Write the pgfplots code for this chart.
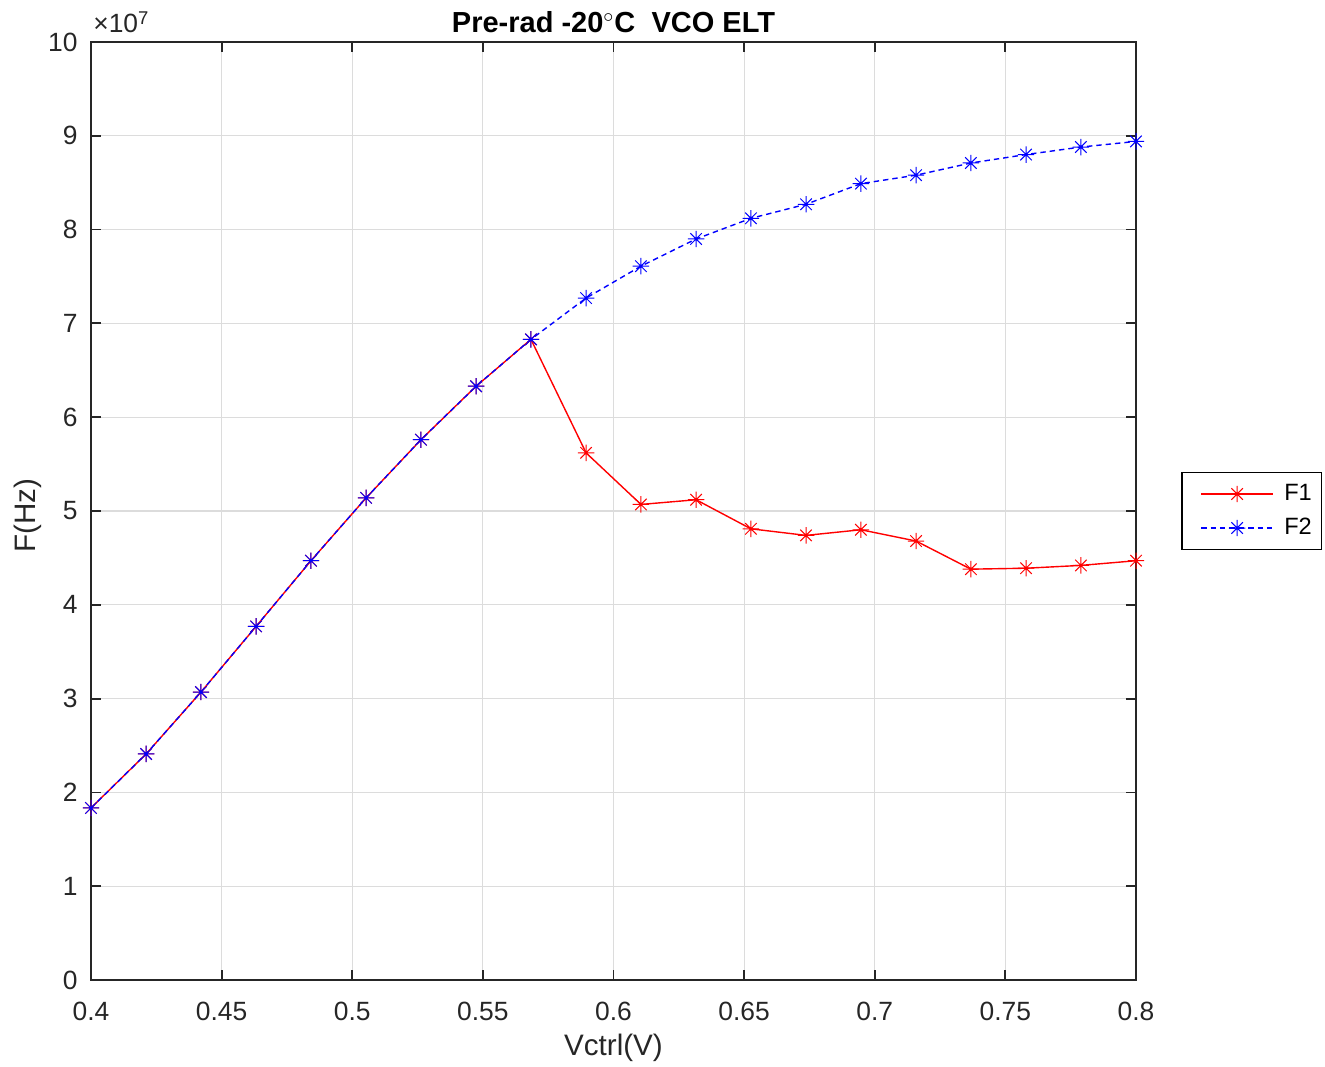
\documentclass[border=0pt]{standalone}
\usepackage{fontspec}
\setmainfont{Liberation Sans}
\usepackage{pgfplots}
\pgfplotsset{compat=1.18}
\definecolor{axc}{RGB}{38,38,38}
\definecolor{gridc}{RGB}{220,220,220}
\pgfdeclareplotmark{matast}{%
  \pgfpathmoveto{\pgfqpoint{-\pgfplotmarksize}{0pt}}%
  \pgfpathlineto{\pgfqpoint{\pgfplotmarksize}{0pt}}%
  \pgfpathmoveto{\pgfqpoint{0pt}{-\pgfplotmarksize}}%
  \pgfpathlineto{\pgfqpoint{0pt}{\pgfplotmarksize}}%
  \pgfpathmoveto{\pgfqpoint{-0.7\pgfplotmarksize}{-0.7\pgfplotmarksize}}%
  \pgfpathlineto{\pgfqpoint{0.7\pgfplotmarksize}{0.7\pgfplotmarksize}}%
  \pgfpathmoveto{\pgfqpoint{-0.7\pgfplotmarksize}{0.7\pgfplotmarksize}}%
  \pgfpathlineto{\pgfqpoint{0.7\pgfplotmarksize}{-0.7\pgfplotmarksize}}%
  \pgfusepathqstroke}
\begin{document}
\fontsize{13.2}{15.5}\selectfont
\begin{tikzpicture}
\begin{axis}[
  name=ax, at={(0,0)}, anchor=south west,
  scale only axis, width=522.5pt, height=469pt,
  xmin=0.4, xmax=0.8, ymin=0, ymax=10,
  clip=false,
  xtick={0.4,0.45,...,0.8},
  xticklabels={0.4,0.45,0.5,0.55,0.6,0.65,0.7,0.75,0.8},
  ytick={0,1,...,10},
  /pgf/number format/assume math mode=true,
  tick align=inside, major tick length=5pt,
  xtick pos=both, ytick pos=both,
  grid=major, major grid style={gridc, line width=0.6pt},
  axis line style={axc, line width=0.9pt},
  tick style={axc, line width=0.9pt},
  xticklabel style={inner sep=0pt, anchor=north, yshift=-11pt, text=axc},
  yticklabel style={inner sep=0pt, anchor=east, xshift=-6.5pt, text=axc},
  xlabel={Vctrl(V)}, ylabel={F(Hz)},
  xlabel style={at={(axis description cs:0.5,-0.0725)}, anchor=center, inner sep=0pt, text=axc, font=\fontsize{14.8}{17}\selectfont},
  ylabel style={at={(axis description cs:-0.06,0.495)}, anchor=center, inner sep=0pt, text=axc, font=\fontsize{14.8}{17}\selectfont},
  legend style={at={(axis description cs:1.0435,0.5)}, anchor=west, draw=black, line width=0.6pt,
    inner xsep=3pt, inner ysep=2.25pt, row sep=0pt,
    nodes={inner xsep=2pt, inner ysep=3pt, text height=8.5pt, text depth=2.5pt},
    font=\fontsize{11.8}{14}\selectfont},
  legend cell align=left,
  legend image code/.code={
    \draw[draw opacity=0, line width=0.1pt] (0pt,0pt) -- (46pt,0pt);
    \draw[#1, mark=none] (6.5pt,0pt) -- (42.5pt,0pt);
    \draw[#1, solid] plot coordinates {(24.5pt,0pt)};
  },
]
\addplot[red, line width=0.7pt, mark=matast, mark size=4.1pt, mark options={solid, line width=0.5pt}]
coordinates {
(0.4000,1.834) (0.4211,2.41) (0.4421,3.07) (0.4632,3.77) (0.4842,4.47)
(0.5053,5.14) (0.5263,5.76) (0.5474,6.33) (0.5684,6.83) (0.5895,5.62)
(0.6105,5.07) (0.6316,5.12) (0.6526,4.81) (0.6737,4.74) (0.6947,4.80)
(0.7158,4.68) (0.7368,4.38) (0.7579,4.39) (0.7789,4.42) (0.8000,4.47)
};
\addlegendentry{F1}
\addplot[blue, line width=0.7pt, dash pattern=on 2.7pt off 2pt, mark=matast, mark size=4.1pt, mark options={solid, line width=0.5pt}]
coordinates {
(0.4000,1.834) (0.4211,2.41) (0.4421,3.07) (0.4632,3.77) (0.4842,4.47)
(0.5053,5.14) (0.5263,5.76) (0.5474,6.33) (0.5684,6.83) (0.5895,7.27)
(0.6105,7.61) (0.6316,7.90) (0.6526,8.12) (0.6737,8.27) (0.6947,8.49)
(0.7158,8.58) (0.7368,8.71) (0.7579,8.80) (0.7789,8.88) (0.8000,8.94)
};
\addlegendentry{F2}
\end{axis}
\node[anchor=base, inner sep=0pt, font=\fontsize{14.5}{17}\selectfont\bfseries] at ([yshift=4.5pt]ax.north) {Pre-rad -20\textsuperscript{$\circ$}C\ \ VCO ELT};
\node[anchor=base west, inner sep=0pt, text=axc] at ([xshift=1pt,yshift=4.5pt]ax.north west) {×10\textsuperscript{7}};
\pgfresetboundingbox
\path (-45.5pt,-43pt) rectangle (617pt,490pt);
\end{tikzpicture}
\end{document}
